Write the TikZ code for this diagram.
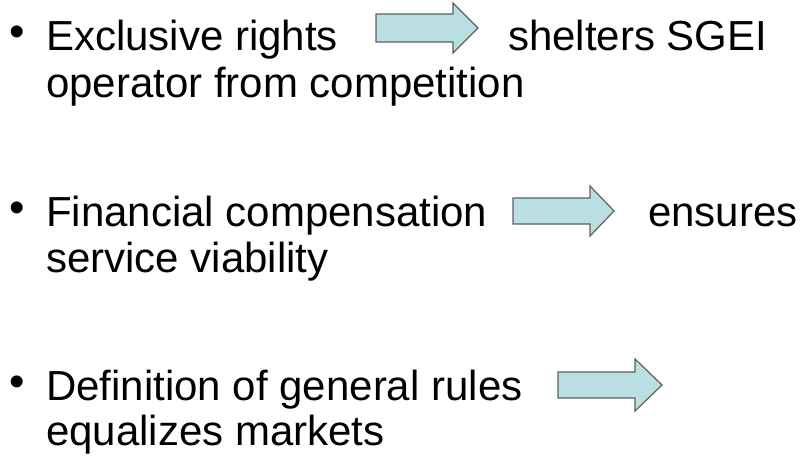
\documentclass[tikz,border=0pt]{standalone}
\usepackage{fontspec}
\setmainfont{Liberation Sans}
\definecolor{arrowfill}{RGB}{185,223,226}
\definecolor{arrowline}{RGB}{95,95,95}
\tikzset{
  txt/.style={anchor=base west, inner sep=0pt, font=\fontsize{42}{46}\selectfont},
  bul/.style={anchor=center, inner sep=0pt, font=\fontsize{44}{44}\selectfont},
  fatarrow/.style={draw=arrowline, fill=arrowfill, line width=1.2pt, line join=miter}
}
\begin{document}
\begin{tikzpicture}[x=1pt, y=1pt]
            \useasboundingbox (0,0) rectangle (802,-456);
            % Nodes with manual coordinates
            \node[bul] (b1) at (17,-36) {•};
            \node[txt] (r1) at (46,-50) {Exclusive rights};
            \node[txt] (s1) at (508,-50) {shelters SGEI};
            \node[txt] (o1) at (46,-97) {operator from competition};

            \node[bul] (b2) at (17,-212) {•};
            \node[txt] (f2) at (46,-226) {Financial compensation};
            \node[txt] (e2) at (648,-226) {ensures};
            \node[txt] (v2) at (46,-272) {service viability};

            \node[bul] (b3) at (17,-386) {•};
            \node[txt] (d3) at (46,-400) {Definition of general rules};
            \node[txt] (m3) at (46,-445) {equalizes markets};

            % Arrows
            \draw[fatarrow] (376,-14) -- (453,-14) -- (453,-3) -- (478,-28)
              -- (453,-53) -- (453,-42) -- (376,-42) -- cycle;
            \draw[fatarrow] (513,-198) -- (590,-198) -- (590,-186) -- (614,-211)
              -- (590,-236) -- (590,-224) -- (513,-224) -- cycle;
            \draw[fatarrow] (558,-372) -- (635,-372) -- (635,-359) -- (662,-385)
              -- (635,-411) -- (635,-398) -- (558,-398) -- cycle;
        \end{tikzpicture}
\end{document}
